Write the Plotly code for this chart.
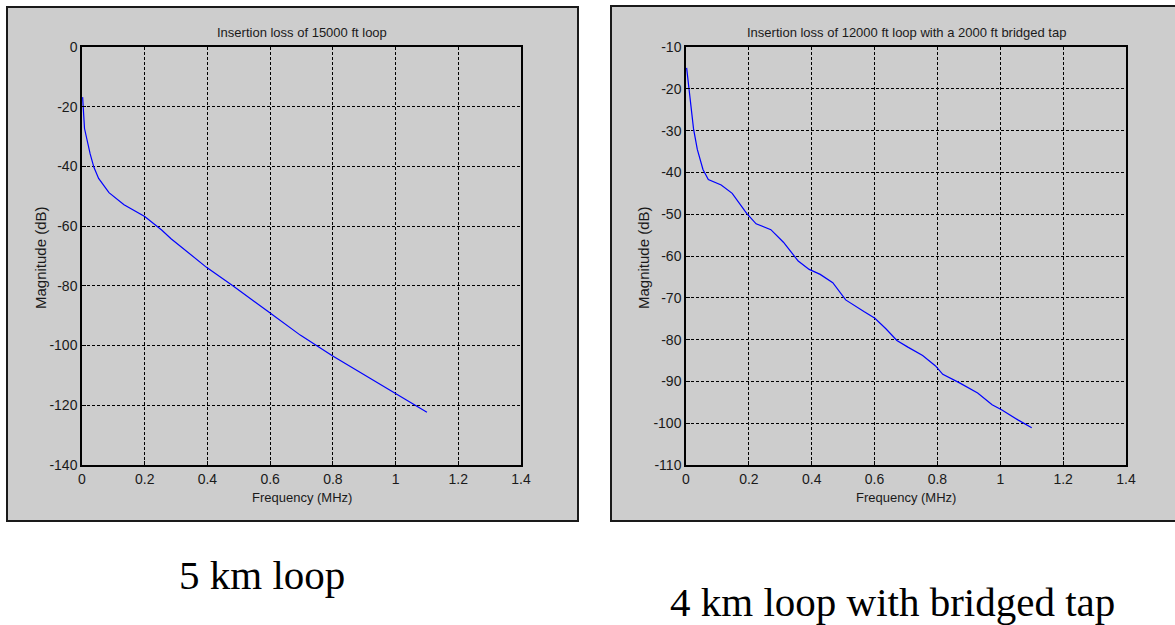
import plotly.graph_objects as go

# ---- data ----
freq_a = [0.002, 0.008, 0.026, 0.038, 0.053, 0.086, 0.134, 0.2, 0.254, 0.284, 0.397,
          0.481, 0.6, 0.696, 0.797, 0.995, 1.1]
mag_a = [-16.8, -27.3, -35.8, -40.3, -44.0, -48.8, -52.8, -56.8, -61.3, -64.2, -73.8,
         -80.0, -89.1, -96.5, -103.3, -115.8, -122.3]

freq_b = [0.002, 0.013, 0.024, 0.036, 0.054, 0.071, 0.112, 0.147, 0.193, 0.223, 0.27,
          0.31, 0.357, 0.392, 0.427, 0.467, 0.508, 0.566, 0.601, 0.636, 0.671, 0.706,
          0.753, 0.794, 0.817, 0.869, 0.928, 0.974, 1.004, 1.056, 1.1]
mag_b = [-15.0, -23.1, -29.6, -34.5, -39.3, -41.7, -43.0, -45.0, -49.8, -52.3, -53.7,
         -56.7, -61.2, -63.2, -64.4, -66.4, -70.5, -73.3, -74.9, -77.4, -80.2, -81.8,
         -83.8, -86.3, -88.3, -90.3, -92.8, -95.6, -96.8, -99.2, -101.1]

x_ticks = [0, 0.2, 0.4, 0.6, 0.8, 1.0, 1.2, 1.4]
x_tick_text = ["0", "0.2", "0.4", "0.6", "0.8", "1", "1.2", "1.4"]
y_ticks_a = [0, -20, -40, -60, -80, -100, -120, -140]
y_tick_text_a = ["0", "-20", "-40", "-60", "-80", "-100", "-120", "-140"]
y_ticks_b = [-10, -20, -30, -40, -50, -60, -70, -80, -90, -100, -110]
y_tick_text_b = ["-10", "-20", "-30", "-40", "-50", "-60", "-70", "-80", "-90", "-100", "-110"]

title_a = "Insertion loss of 15000 ft loop"
title_b = "Insertion loss of 12000 ft loop with a 2000 ft bridged tap"
caption_a = "5 km loop"
caption_b = "4 km loop with bridged tap"
x_title = "Frequency (MHz)"
y_title = "Magnitude (dB)"

W, H = 1175, 625
def px(x):
    return x / W
def py(y):
    return 1 - y / H

ARIAL = "Liberation Sans, Arial, sans-serif"

fig = go.Figure()
fig.add_trace(go.Scatter(x=freq_a, y=mag_a, mode="lines", line=dict(color="#0000ff", width=1.2),
                         xaxis="x", yaxis="y", showlegend=False))
fig.add_trace(go.Scatter(x=freq_b, y=mag_b, mode="lines", line=dict(color="#0000ff", width=1.2),
                         xaxis="x2", yaxis="y2", showlegend=False))

tick_font = dict(family=ARIAL, size=14, color="#1a1a1a")
grid = dict(showgrid=True, gridcolor="#000000", gridwidth=1, griddash="3px,2px",
            showline=True, linecolor="#000000", linewidth=1.5, mirror=True,
            ticks="inside", ticklen=4, tickcolor="#000000", zeroline=False,
            tickfont=tick_font, automargin=False)

fig.update_layout(
    width=W, height=H,
    margin=dict(l=0, r=0, t=0, b=0),
    paper_bgcolor="white", plot_bgcolor="white",
    xaxis=dict(domain=[px(82), px(521)], range=[0, 1.4], tickvals=x_ticks, ticktext=x_tick_text,
               anchor="y", **grid),
    yaxis=dict(domain=[py(465), py(47)], range=[-140, 0], tickvals=y_ticks_a, ticktext=y_tick_text_a,
               anchor="x", **grid),
    xaxis2=dict(domain=[px(686), px(1126)], range=[0, 1.4], tickvals=x_ticks, ticktext=x_tick_text,
                anchor="y2", **grid),
    yaxis2=dict(domain=[py(465), py(47)], range=[-110, -10], tickvals=y_ticks_b, ticktext=y_tick_text_b,
                anchor="x2", **grid),
    shapes=[
        dict(type="rect", xref="paper", yref="paper", x0=px(7), x1=px(578), y0=py(521), y1=py(7),
             fillcolor="#cdcdcd", line=dict(color="#1a1a1a", width=2), layer="below"),
        dict(type="rect", xref="paper", yref="paper", x0=px(611), x1=px(1185), y0=py(521), y1=py(6),
             fillcolor="#cdcdcd", line=dict(color="#1a1a1a", width=2), layer="below"),
    ],
)

ann = []
for cx, t in [((82 + 521) / 2, title_a), ((686 + 1126) / 2, title_b)]:
    ann.append(dict(x=px(cx), y=py(32), xref="paper", yref="paper", text=t, showarrow=False,
                    font=dict(family=ARIAL, size=13, color="#1a1a1a"),
                    xanchor="center", yanchor="middle"))
    ann.append(dict(x=px(cx), y=py(498), xref="paper", yref="paper", text=x_title, showarrow=False,
                    font=dict(family=ARIAL, size=13, color="#1a1a1a"),
                    xanchor="center", yanchor="middle"))
for cx in [40, 643]:
    ann.append(dict(x=px(cx), y=py(258), xref="paper", yref="paper", text=y_title, showarrow=False,
                    font=dict(family=ARIAL, size=15, color="#1a1a1a"), textangle=-90,
                    xanchor="center", yanchor="middle"))
ann.append(dict(x=px(262), y=py(575), xref="paper", yref="paper", text=caption_a, showarrow=False,
                font=dict(family="Liberation Serif, Times New Roman, serif", size=41, color="black"),
                xanchor="center", yanchor="middle"))
ann.append(dict(x=px(892), y=py(602), xref="paper", yref="paper", text=caption_b, showarrow=False,
                font=dict(family="Liberation Serif, Times New Roman, serif", size=41, color="black"),
                xanchor="center", yanchor="middle"))
fig.update_layout(annotations=ann)

fig.write_html("out.html", post_script="document.body.style.margin='0px';document.body.style.overflow='hidden';")
